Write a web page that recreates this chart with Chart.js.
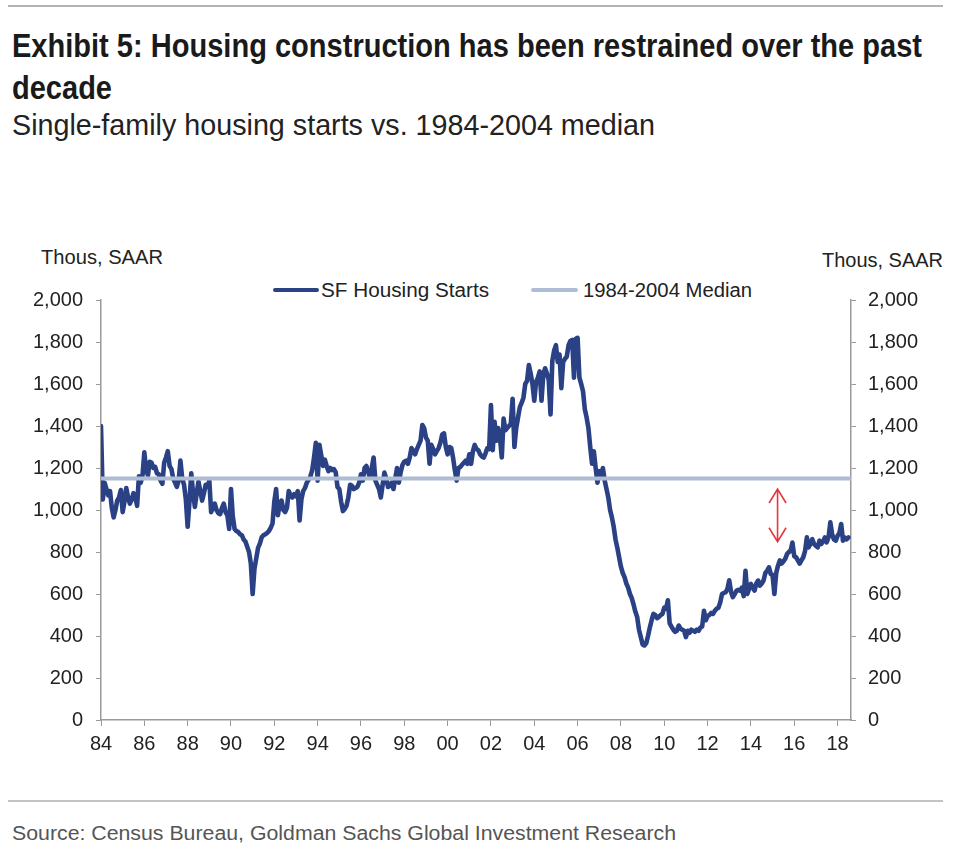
<!DOCTYPE html>
<html>
<head>
<meta charset="utf-8">
<script src="https://cdn.jsdelivr.net/npm/chart.js@4.4.1/dist/chart.umd.min.js"></script>
<style>
  html, body { margin: 0; padding: 0; background: #fff; }
  #page { position: relative; width: 960px; height: 852px; overflow: hidden; font-family: "Liberation Sans", Arial, sans-serif; color: #222; }
  .t { position: absolute; white-space: nowrap; transform-origin: left top; display: inline-block; }
  .rule { position: absolute; left: 8px; width: 935px; background: #b4b4b4; }
  .cond { font-family: "Liberation Sans Narrow", "Liberation Sans", Arial, sans-serif; }
  .leg { position: absolute; height: 4px; }
  #wrap { position: absolute; left: 0; top: 230px; width: 960px; height: 530px; }
</style>
</head>
<body>
<div id="page">
  <div class="rule" style="top:5px;height:2px;"></div>
  <div class="t cond" data-w="910" style="left:12px;top:29px;font-size:33px;line-height:33px;font-weight:bold;color:#1a1a1a;">Exhibit 5: Housing construction has been restrained over the past</div>
  <div class="t cond" data-w="100" style="left:12px;top:71px;font-size:33px;line-height:33px;font-weight:bold;color:#1a1a1a;">decade</div>
  <div class="t cond" data-w="643" style="left:12px;top:111px;font-size:29px;line-height:29px;color:#222;">Single-family housing starts vs. 1984-2004 median</div>

  <div class="t" data-w="122" style="left:41px;top:247px;font-size:20px;line-height:20px;">Thous, SAAR</div>
  <div class="t" data-w="121" style="left:822px;top:250px;font-size:20px;line-height:20px;">Thous, SAAR</div>

  <div class="leg" style="left:273px;top:288px;width:46px;background:#2a4285;border-radius:2px;"></div>
  <div class="t" data-w="168" style="left:321px;top:280px;font-size:20px;line-height:20px;">SF Housing Starts</div>
  <div class="leg" style="left:531px;top:288px;width:47px;background:#aebcd4;border-radius:2px;"></div>
  <div class="t" data-w="169" style="left:583px;top:280px;font-size:20px;line-height:20px;">1984-2004 Median</div>

  <div id="wrap"><canvas id="housing-chart"></canvas></div>

  <div class="rule" style="top:800px;height:2px;background:#c4c4c4;"></div>
  <div class="t cond" data-w="664" style="left:12px;top:823px;font-size:20px;line-height:20px;color:#555;">Source: Census Bureau, Goldman Sachs Global Investment Research</div>
</div>

<script>
// single-family housing starts, thous SAAR, monthly from Jan 1984
const startYear = 1984;
const sfStarts = [
  1400, 1050, 1130, 1100, 1070, 1090, 1010, 965, 1000, 1045, 1060, 1095, // 84
  990, 1040, 1105, 1060, 1030, 1050, 1080, 1060, 1020, 1160, 1130, 1165, // 85
  1275, 1190, 1165, 1230, 1225, 1200, 1205, 1175, 1170, 1140, 1125, 1225, // 86
  1250, 1280, 1210, 1195, 1150, 1130, 1110, 1140, 1235, 1150, 1120, 1050, // 87
  920, 1040, 1175, 1080, 1015, 1080, 1135, 1090, 1045, 1080, 1120, 1110, // 88
  1140, 990, 1010, 1030, 1000, 985, 980, 1010, 1030, 990, 975, 910, // 89
  1100, 970, 910, 900, 895, 885, 880, 860, 850, 825, 800, 745, // 90
  600, 720, 770, 820, 840, 870, 880, 885, 890, 900, 915, 935, // 91
  1040, 1100, 975, 1030, 1045, 1000, 990, 1010, 1090, 1070, 1060, 1075, // 92
  1065, 1090, 950, 1050, 1090, 1105, 1130, 1145, 1160, 1190, 1250, 1320, // 93
  1140, 1310, 1260, 1210, 1240, 1210, 1185, 1200, 1190, 1195, 1180, 1110, // 94
  1100, 1040, 995, 1005, 1020, 1060, 1120, 1115, 1100, 1105, 1110, 1130, // 95
  1170, 1140, 1200, 1210, 1180, 1155, 1200, 1250, 1140, 1120, 1100, 1060, // 96
  1120, 1178, 1150, 1110, 1115, 1130, 1100, 1150, 1200, 1130, 1180, 1215, // 97
  1230, 1235, 1220, 1250, 1295, 1280, 1265, 1290, 1310, 1330, 1405, 1390, // 98
  1345, 1330, 1220, 1310, 1290, 1265, 1280, 1295, 1320, 1360, 1365, 1300, // 99
  1265, 1300, 1295, 1250, 1190, 1140, 1200, 1205, 1215, 1225, 1235, 1220, // 00
  1265, 1220, 1280, 1310, 1290, 1285, 1265, 1255, 1250, 1270, 1295, 1290, // 01
  1500, 1285, 1420, 1330, 1390, 1345, 1250, 1435, 1380, 1390, 1400, 1410, // 02
  1530, 1300, 1390, 1440, 1490, 1510, 1535, 1600, 1615, 1690, 1650, 1600, // 03
  1520, 1610, 1630, 1660, 1520, 1645, 1675, 1650, 1620, 1455, 1710, 1760, // 04
  1785, 1705, 1740, 1580, 1705, 1720, 1730, 1785, 1805, 1810, 1630, 1815, // 05
  1820, 1630, 1600, 1565, 1480, 1440, 1390, 1300, 1220, 1280, 1200, 1130, // 06
  1185, 1160, 1200, 1140, 1100, 1060, 1000, 965, 920, 860, 820, 775, // 07
  730, 700, 680, 650, 630, 600, 580, 550, 515, 490, 430, 395, // 08
  360, 355, 365, 400, 440, 475, 505, 500, 485, 490, 500, 505, // 09
  535, 530, 570, 460, 445, 430, 420, 425, 450, 435, 430, 425, // 10
  395, 425, 415, 430, 425, 420, 430, 425, 440, 445, 520, 475, // 11
  495, 500, 510, 505, 520, 530, 535, 560, 600, 605, 608, 625, // 12
  665, 610, 585, 600, 615, 620, 615, 630, 590, 710, 600, 625, // 13
  648, 630, 616, 650, 664, 640, 650, 664, 700, 711, 727, 695, // 14
  690, 600, 700, 735, 760, 745, 755, 767, 790, 800, 806, 845, // 15
  780, 775, 760, 745, 760, 775, 805, 870, 822, 840, 861, 838, // 16
  830, 822, 854, 838, 850, 869, 846, 870, 941, 885, 860, 854, // 17
  877, 890, 933, 854, 869, 860, 869 // 18
];
const medianValue = 1150;
const xMin = 1984;
const xMax = 2018.62;
const xTickStep = 2;
const yMin = 0;
const yMax = 2000;
const yTickStep = 200;
// red arrow marking the gap to the median
const arrowYear = 2015.23;
const arrowFrom = 1100;
const arrowTo = 849;

const startsPoints = sfStarts.map((v, i) => ({ x: startYear + i / 12, y: v }));
const medianPoints = [{ x: xMin, y: medianValue }, { x: xMax, y: medianValue }];

const axisGray = "#9a9a9a";
const tickFont = { family: "'Liberation Sans', Arial, sans-serif", size: 20 };

const gapArrow = {
  id: "gapArrow",
  afterDatasetsDraw(chart) {
    const ctx = chart.ctx;
    const x = chart.scales.x.getPixelForValue(arrowYear);
    const y1 = chart.scales.y.getPixelForValue(arrowFrom);
    const y2 = chart.scales.y.getPixelForValue(arrowTo);
    ctx.save();
    ctx.strokeStyle = "#e3383c";
    ctx.lineWidth = 1.6;
    ctx.beginPath();
    ctx.moveTo(x, y1);
    ctx.lineTo(x, y2);
    ctx.moveTo(x - 8.5, y1 + 14);
    ctx.lineTo(x, y1);
    ctx.lineTo(x + 8.5, y1 + 14);
    ctx.moveTo(x - 8.5, y2 - 14);
    ctx.lineTo(x, y2);
    ctx.lineTo(x + 8.5, y2 - 14);
    ctx.stroke();
    ctx.restore();
  }
};

new Chart(document.getElementById("housing-chart"), {
  type: "line",
  data: {
    datasets: [
      {
        label: "1984-2004 Median",
        data: medianPoints,
        borderColor: "#aebcd4",
        borderWidth: 4,
        pointRadius: 0,
        yAxisID: "y",
      },
      {
        label: "SF Housing Starts",
        data: startsPoints,
        borderColor: "#2a4285",
        borderWidth: 4.6,
        borderJoinStyle: "round",
        borderCapStyle: "round",
        pointRadius: 0,
        tension: 0,
        yAxisID: "y",
      },
    ],
  },
  options: {
    responsive: true,
    maintainAspectRatio: false,
    animation: false,
    layout: { padding: { top: 70, left: 0, right: 0, bottom: 0 } },
    plugins: { legend: { display: false }, tooltip: { enabled: false } },
    scales: {
      x: {
        type: "linear",
        min: xMin,
        max: xMax,
        afterFit: (s) => { s.height = 40; },
        grid: { drawOnChartArea: false, color: axisGray, tickLength: 6 },
        border: { color: axisGray, width: 1.5 },
        ticks: {
          stepSize: xTickStep,
          includeBounds: false,
          autoSkip: false,
          maxRotation: 0,
          padding: 6,
          color: "#222",
          font: tickFont,
          callback: (v) => String(v % 100).padStart(2, "0"),
        },
      },
      y: {
        position: "left",
        min: yMin,
        max: yMax,
        afterFit: (s) => { s.width = 101; },
        grid: { drawOnChartArea: false, color: axisGray, tickLength: 5 },
        border: { color: axisGray, width: 1.5 },
        ticks: {
          stepSize: yTickStep,
          padding: 13,
          color: "#222",
          font: tickFont,
          callback: (v) => v.toLocaleString("en-US"),
        },
      },
      y2: {
        position: "right",
        min: yMin,
        max: yMax,
        afterFit: (s) => { s.width = 109; },
        grid: { drawOnChartArea: false, color: axisGray, tickLength: 5 },
        border: { color: axisGray, width: 1.5 },
        ticks: {
          stepSize: yTickStep,
          padding: 12,
          color: "#222",
          font: tickFont,
          callback: (v) => v.toLocaleString("en-US"),
        },
      },
    },
  },
  plugins: [gapArrow],
});

// squeeze text to the widths measured on the reference
document.querySelectorAll("[data-w]").forEach((el) => {
  const w = el.getBoundingClientRect().width;
  if (w > 0) el.style.transform = "scaleX(" + (el.dataset.w / w) + ")";
});
</script>
</body>
</html>
